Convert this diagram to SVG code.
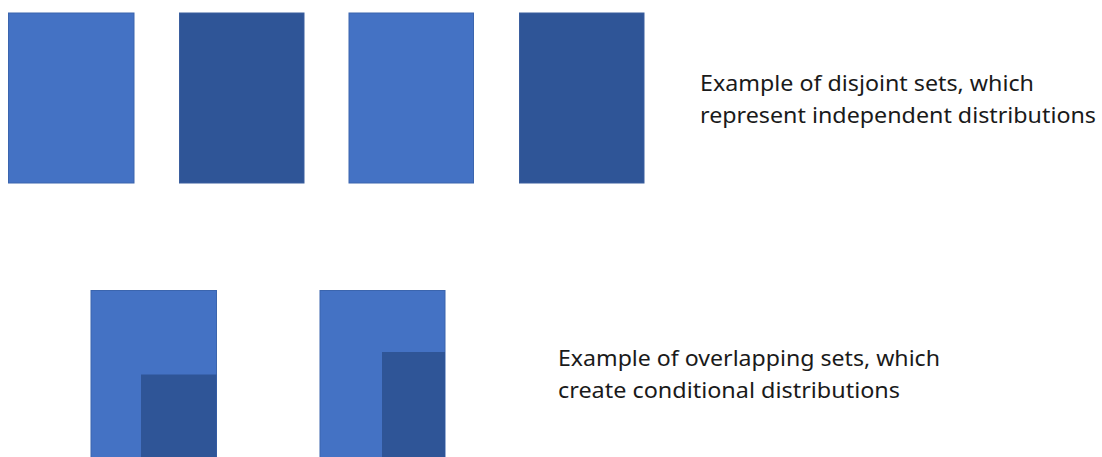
<svg xmlns="http://www.w3.org/2000/svg" width="1102" height="457" viewBox="0 0 1102 457">
<style>
.light{fill:#4472C4;stroke:#3B65AE;stroke-width:1}
.dark{fill:#2F5597;stroke:#3B5F9E;stroke-width:1}
.inner{fill:#2F5597}
.lbl{font-family:"Noto Sans","Open Sans","Liberation Sans",sans-serif;font-size:22px;fill:#1a1a1a}
</style>
<rect width="1102" height="457" fill="#ffffff"/>
<g id="set1"><rect class="light" x="8.5" y="13" width="125.5" height="170"/></g>
<g id="set2"><rect class="dark" x="179.5" y="13" width="124.5" height="170"/></g>
<g id="set3"><rect class="light" x="349" y="13" width="124.5" height="170"/></g>
<g id="set4"><rect class="dark" x="519.5" y="13" width="124.5" height="170"/></g>
<g id="label-disjoint">
<text class="lbl" x="700" y="91" textLength="334" lengthAdjust="spacingAndGlyphs">Example of disjoint sets, which</text>
<text class="lbl" x="700" y="123" textLength="396" lengthAdjust="spacingAndGlyphs">represent independent distributions</text>
</g>
<g id="overlap1">
<rect class="light" x="91" y="290.5" width="125.5" height="170"/>
<rect class="inner" x="141" y="374.5" width="75.5" height="90"/>
</g>
<g id="overlap2">
<rect class="light" x="320" y="290.5" width="125" height="170"/>
<rect class="inner" x="382" y="352" width="63" height="110"/>
</g>
<g id="label-overlap">
<text class="lbl" x="558" y="366" textLength="382" lengthAdjust="spacingAndGlyphs">Example of overlapping sets, which</text>
<text class="lbl" x="558" y="398" textLength="342" lengthAdjust="spacingAndGlyphs">create conditional distributions</text>
</g>
<g id="connectors"/>
</svg>
